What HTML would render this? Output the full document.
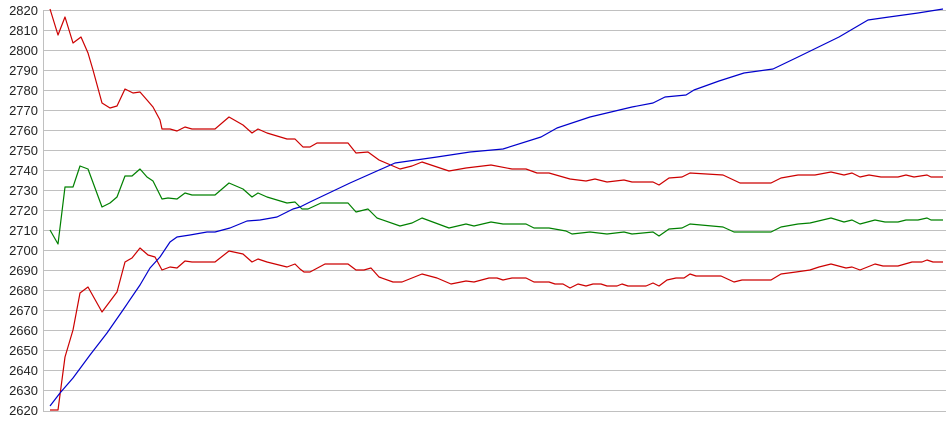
<!DOCTYPE html>
<html><head><meta charset="utf-8"><style>
html,body{margin:0;padding:0;background:#fff;}
svg{display:block;}
text{font-family:"Liberation Sans",sans-serif;font-size:13px;fill:#222;}
</style></head><body>
<svg width="950" height="435" xmlns="http://www.w3.org/2000/svg">
<g stroke="#c0c0c0" stroke-width="1">
<line x1="44" y1="10.5" x2="946" y2="10.5"/><line x1="44" y1="30.5" x2="946" y2="30.5"/>
<line x1="44" y1="50.5" x2="946" y2="50.5"/><line x1="44" y1="70.5" x2="946" y2="70.5"/>
<line x1="44" y1="90.5" x2="946" y2="90.5"/><line x1="44" y1="110.5" x2="946" y2="110.5"/>
<line x1="44" y1="130.5" x2="946" y2="130.5"/><line x1="44" y1="150.5" x2="946" y2="150.5"/>
<line x1="44" y1="170.5" x2="946" y2="170.5"/><line x1="44" y1="190.5" x2="946" y2="190.5"/>
<line x1="44" y1="210.5" x2="946" y2="210.5"/><line x1="44" y1="230.5" x2="946" y2="230.5"/>
<line x1="44" y1="250.5" x2="946" y2="250.5"/><line x1="44" y1="270.5" x2="946" y2="270.5"/>
<line x1="44" y1="290.5" x2="946" y2="290.5"/><line x1="44" y1="310.5" x2="946" y2="310.5"/>
<line x1="44" y1="330.5" x2="946" y2="330.5"/><line x1="44" y1="350.5" x2="946" y2="350.5"/>
<line x1="44" y1="370.5" x2="946" y2="370.5"/><line x1="44" y1="390.5" x2="946" y2="390.5"/>
<line x1="44" y1="411.5" x2="946" y2="411.5"/>
<line x1="43.5" y1="10" x2="43.5" y2="412"/>
</g>
<g text-anchor="end">
<text x="38" y="15">2820</text><text x="38" y="35">2810</text><text x="38" y="55">2800</text>
<text x="38" y="75">2790</text><text x="38" y="95">2780</text><text x="38" y="115">2770</text>
<text x="38" y="135">2760</text><text x="38" y="155">2750</text><text x="38" y="175">2740</text>
<text x="38" y="195">2730</text><text x="38" y="215">2720</text><text x="38" y="235">2710</text>
<text x="38" y="255">2700</text><text x="38" y="275">2690</text><text x="38" y="295">2680</text>
<text x="38" y="315">2670</text><text x="38" y="335">2660</text><text x="38" y="355">2650</text>
<text x="38" y="375">2640</text><text x="38" y="395">2630</text><text x="38" y="415">2620</text>
</g>
<g fill="none" stroke-width="1.2" stroke-linejoin="round">
<polyline stroke="#cc0000" points="50,9 58,35 65,17 73,43 81,37 88,53 93,70 102,103 110,108 117,106 125,89 133,93 140,92 147,100 153,107 160,120 162,129 170,129 177,131 185,127 192,129 215,129 229,117 243,125 252,133 258,129 267,133 287,139 295,139 303,147 310,147 317,143 348,143 356,153 368,152 379,160 400,169 412,166 422,162 449,171 466,168 491,165 512,169 526,169 537,173 549,173 570,179 586,181 595,179 607,182 624,180 632,182 653,182 659,185 669,178 682,177 690,173 723,175 740,183 771,183 781,178 798,175 815,175 831,172 844,175 852,173 860,177 869,175 881,177 898,177 906,175 914,177 927,175 931,177 943,177"/>
<polyline stroke="#008000" points="50,230 58,244 65,187 73,187 80,166 88,169 102,207 110,203 117,197 125,176 132,176 140,169 147,177 153,181 162,199 168,198 177,199 185,193 192,195 215,195 229,183 243,189 252,197 258,193 267,197 287,203 295,202 302,209 308,209 321,203 348,203 356,212 368,209 377,218 400,226 412,223 422,218 449,228 466,224 474,226 491,222 503,224 526,224 534,228 549,228 566,231 572,234 590,232 607,234 624,232 632,234 653,232 659,236 669,229 682,228 690,224 723,227 734,232 771,232 781,227 798,224 810,223 831,218 844,222 852,220 860,224 875,220 885,222 898,222 906,220 918,220 927,218 931,220 943,220"/>
<polyline stroke="#cc0000" points="50,410 58,410 65,357 73,330 80,293 88,287 102,312 117,292 125,262 132,258 140,248 148,255 155,257 162,270 170,267 177,268 185,261 192,262 215,262 229,251 243,254 252,262 258,259 267,262 287,267 295,264 300,269 304,272 310,272 325,264 348,264 356,270 364,270 371,268 379,277 393,282 402,282 422,274 437,278 451,284 466,281 474,282 489,278 497,278 503,280 512,278 526,278 534,282 549,282 555,284 563,284 570,288 578,284 586,286 593,284 601,284 607,286 617,286 622,284 628,286 646,286 653,283 659,286 667,280 676,278 684,278 690,274 696,276 721,276 734,282 742,280 771,280 781,274 796,272 810,270 819,267 831,264 846,268 852,267 860,270 875,264 883,266 898,266 912,262 922,262 927,260 933,262 943,262"/>
<polyline stroke="#0000cc" points="50,406 60,393 73,378 90,355 107,333 123,310 140,285 150,268 160,257 170,242 177,237 190,235 207,232 215,232 230,228 247,221 260,220 277,217 293,209 300,207 310,202 350,183 395,163 437,157 470,152 503,149 541,137 557,128 590,117 632,107 653,103 665,97 686,95 694,90 719,81 744,73 773,69 798,57 839,37 868,20 889,17 918,13 943,9"/>
</g>
</svg>
</body></html>
